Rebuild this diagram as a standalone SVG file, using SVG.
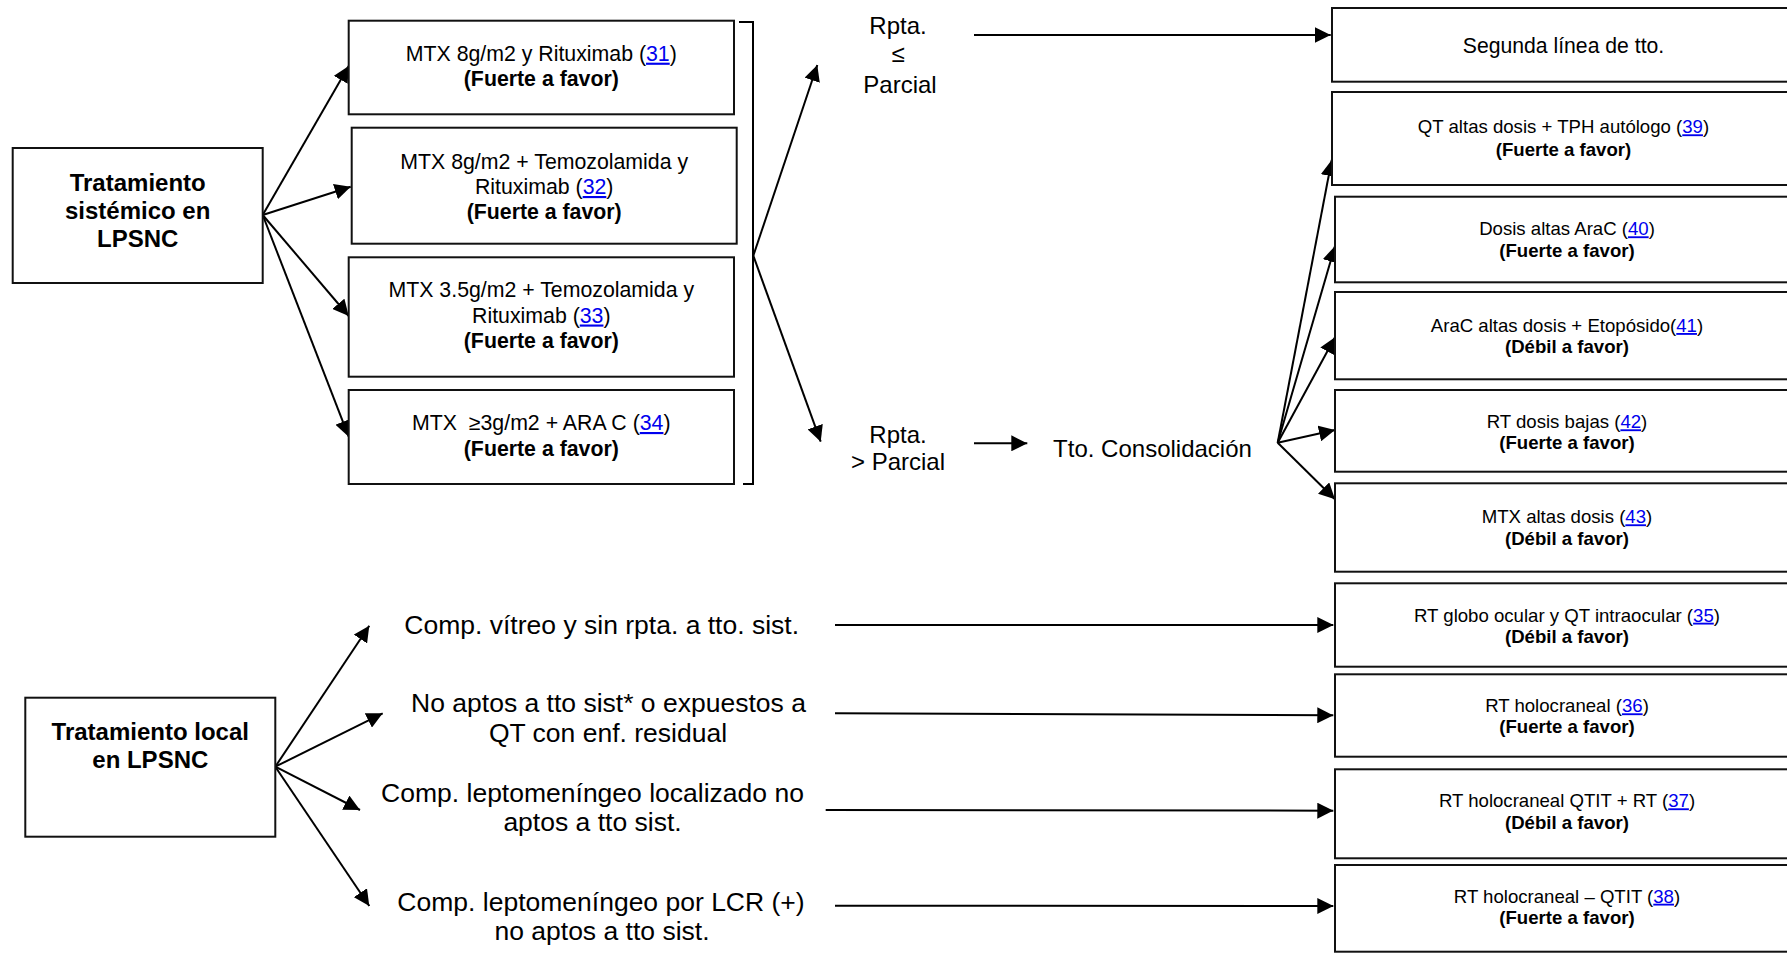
<svg xmlns="http://www.w3.org/2000/svg" width="1787" height="953" viewBox="0 0 1787 953">
<style>
text{font-family:"Liberation Sans",Arial,sans-serif;fill:#000;text-anchor:middle}
.box{fill:#fff;stroke:#111;stroke-width:2}
.ln{fill:none;stroke:#000;stroke-width:2;marker-end:url(#ah)}
.br{fill:none;stroke:#000;stroke-width:2}
.big{font-size:24px;font-weight:bold}
.mid{font-size:21.3px}
.sm{font-size:18.6px}
.lab{font-size:24px}
.lo{font-size:26.5px}
.b{font-weight:bold}
.ref{fill:#0000ee;text-decoration:underline}
</style>
<defs>
<marker id="ah" markerUnits="userSpaceOnUse" markerWidth="16" markerHeight="16" refX="16" refY="8" orient="auto">
<path d="M0,0 L16,8 L0,16 Z" fill="#000"/>
</marker>
</defs>
<rect width="1787" height="953" fill="#fff"/>

<g id="connectors">
<path class="ln" d="M262.7,215 L348.7,66"/>
<path class="ln" d="M262.7,215 L350.7,186.7"/>
<path class="ln" d="M262.7,215 L348.7,316"/>
<path class="ln" d="M262.7,215 L348.7,436.7"/>
<path class="br" d="M739,22 H753 V484 H743"/>
<path class="ln" d="M753.3,255.7 L817.3,65"/>
<path class="ln" d="M753.3,255.7 L820.7,441.7"/>
<path class="ln" d="M974,35 L1330.7,35"/>
<path class="ln" d="M974,443.3 L1027.3,443.3"/>
<path class="ln" d="M1277.7,442.7 L1331.7,160"/>
<path class="ln" d="M1277.7,442.7 L1335,246"/>
<path class="ln" d="M1277.7,442.7 L1335,337.3"/>
<path class="ln" d="M1277.7,442.7 L1335,430"/>
<path class="ln" d="M1277.7,442.7 L1335,499.3"/>
<path class="ln" d="M275.3,766.7 L369.3,625.7"/>
<path class="ln" d="M275.3,766.7 L382.7,713.3"/>
<path class="ln" d="M275.3,766.7 L360,810"/>
<path class="ln" d="M275.3,766.7 L369.3,906"/>
<path class="ln" d="M835,625 L1333.3,625"/>
<path class="ln" d="M835,713.3 L1333.3,715.3"/>
<path class="ln" d="M825.7,810 L1333.3,810.7"/>
<path class="ln" d="M835,905.7 L1333.3,906"/>
</g>

<g id="n-sistemico">
<rect class="box" x="12.7" y="148" width="250" height="135"/>
<text class="big" x="137.7" y="190.7">Tratamiento</text>
<text class="big" x="137.7" y="218.5">sistémico en</text>
<text class="big" x="137.7" y="246.7">LPSNC</text>
</g>

<g id="n-a1">
<rect class="box" x="348.7" y="20.7" width="385.3" height="93.6"/>
<text class="mid" x="541.3" y="60.7">MTX 8g/m2 y Rituximab (<tspan class="ref">31</tspan>)</text>
<text class="mid b" x="541.3" y="86">(Fuerte a favor)</text>
</g>
<g id="n-a2">
<rect class="box" x="351.7" y="127.7" width="385" height="116"/>
<text class="mid" x="544.2" y="169.3">MTX 8g/m2 + Temozolamida y</text>
<text class="mid" x="544.2" y="194">Rituximab (<tspan class="ref">32</tspan>)</text>
<text class="mid b" x="544.2" y="219.3">(Fuerte a favor)</text>
</g>
<g id="n-a3">
<rect class="box" x="348.7" y="257.3" width="385.3" height="119.4"/>
<text class="mid" x="541.3" y="296.7">MTX 3.5g/m2 + Temozolamida y</text>
<text class="mid" x="541.3" y="322.5">Rituximab (<tspan class="ref">33</tspan>)</text>
<text class="mid b" x="541.3" y="348.3">(Fuerte a favor)</text>
</g>
<g id="n-a4">
<rect class="box" x="348.7" y="390" width="385.3" height="94"/>
<text class="mid" x="541.3" y="430">MTX&#160; ≥3g/m2 + ARA C (<tspan class="ref">34</tspan>)</text>
<text class="mid b" x="541.3" y="456">(Fuerte a favor)</text>
</g>

<g id="n-rpta-le">
<text class="lab" x="898" y="34">Rpta.</text>
<text class="lab" x="898" y="62">≤</text>
<text class="lab" x="900" y="93">Parcial</text>
</g>
<g id="n-rpta-gt">
<text class="lab" x="898" y="443.3">Rpta.</text>
<text class="lab" x="898" y="470">&gt; Parcial</text>
</g>
<g id="n-consol">
<text class="lab" x="1152.5" y="456.7">Tto. Consolidación</text>
</g>

<g id="n-r1">
<rect class="box" x="1332" y="8" width="463" height="73.7"/>
<text x="1563.5" y="52.7" style="font-size:21.2px">Segunda línea de tto.</text>
</g>
<g id="n-r2">
<rect class="box" x="1332" y="92" width="463" height="93"/>
<text class="sm" x="1563.5" y="133.3">QT altas dosis + TPH autólogo (<tspan class="ref">39</tspan>)</text>
<text class="sm b" x="1563.5" y="156">(Fuerte a favor)</text>
</g>
<g id="n-r3">
<rect class="box" x="1335" y="196.7" width="464" height="85.6"/>
<text class="sm" x="1567" y="235.3">Dosis altas AraC (<tspan class="ref">40</tspan>)</text>
<text class="sm b" x="1567" y="257.3">(Fuerte a favor)</text>
</g>
<g id="n-r4">
<rect class="box" x="1335" y="292" width="464" height="87.3"/>
<text class="sm" x="1567" y="332">AraC altas dosis + Etopósido(<tspan class="ref">41</tspan>)</text>
<text class="sm b" x="1567" y="353.3">(Débil a favor)</text>
</g>
<g id="n-r5">
<rect class="box" x="1335" y="390" width="464" height="81.7"/>
<text class="sm" x="1567" y="428.3">RT dosis bajas (<tspan class="ref">42</tspan>)</text>
<text class="sm b" x="1567" y="449.3">(Fuerte a favor)</text>
</g>
<g id="n-r6">
<rect class="box" x="1335" y="483.3" width="464" height="88.4"/>
<text class="sm" x="1567" y="523.3">MTX altas dosis (<tspan class="ref">43</tspan>)</text>
<text class="sm b" x="1567" y="545">(Débil a favor)</text>
</g>

<g id="n-local">
<rect class="box" x="25.3" y="697.7" width="250" height="139"/>
<text class="big" x="150.3" y="740">Tratamiento local</text>
<text class="big" x="150.3" y="768.3">en LPSNC</text>
</g>

<g id="n-l1">
<text class="lo" x="601.7" y="634.3">Comp. vítreo y sin rpta. a tto. sist.</text>
</g>
<g id="n-l2">
<text class="lo" x="608.5" y="711.7">No aptos a tto sist* o expuestos a</text>
<text class="lo" x="608" y="741.7">QT con enf. residual</text>
</g>
<g id="n-l3">
<text class="lo" x="592.5" y="801.7">Comp. leptomeníngeo localizado no</text>
<text class="lo" x="592.5" y="830.7">aptos a tto sist.</text>
</g>
<g id="n-l4">
<text class="lo" x="601" y="911">Comp. leptomeníngeo por LCR (+)</text>
<text class="lo" x="602" y="940">no aptos a tto sist.</text>
</g>

<g id="n-r7">
<rect class="box" x="1335" y="583.3" width="464" height="83.4"/>
<text class="sm" x="1567" y="621.7">RT globo ocular y QT intraocular (<tspan class="ref">35</tspan>)</text>
<text class="sm b" x="1567" y="642.7">(Débil a favor)</text>
</g>
<g id="n-r8">
<rect class="box" x="1335" y="674.3" width="464" height="82.4"/>
<text class="sm" x="1567" y="712.3">RT holocraneal (<tspan class="ref">36</tspan>)</text>
<text class="sm b" x="1567" y="733.3">(Fuerte a favor)</text>
</g>
<g id="n-r9">
<rect class="box" x="1335" y="769.3" width="464" height="89"/>
<text class="sm" x="1567" y="807.3">RT holocraneal QTIT + RT (<tspan class="ref">37</tspan>)</text>
<text class="sm b" x="1567" y="829.3">(Débil a favor)</text>
</g>
<g id="n-r10">
<rect class="box" x="1335" y="865" width="464" height="86.7"/>
<text class="sm" x="1567" y="902.7">RT holocraneal – QTIT (<tspan class="ref">38</tspan>)</text>
<text class="sm b" x="1567" y="924.3">(Fuerte a favor)</text>
</g>
</svg>
